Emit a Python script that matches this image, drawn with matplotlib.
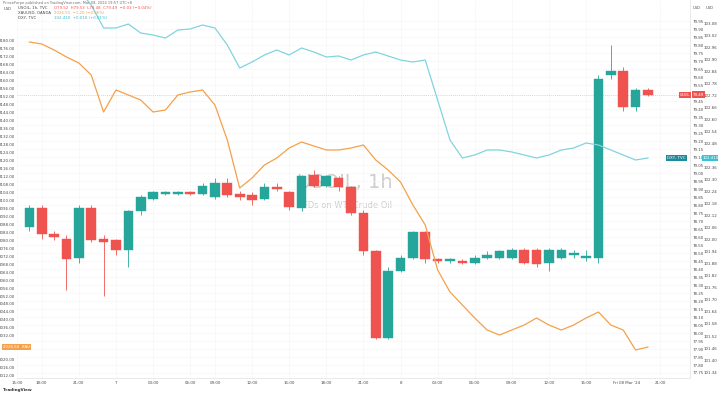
import matplotlib
matplotlib.use("Agg")
import matplotlib.pyplot as plt
import matplotlib.transforms as mtransforms
from matplotlib.ticker import FixedLocator, FormatStrFormatter
import numpy as np

# ---------------- data ----------------
candle_index = list(range(51))
opens = [78.66, 78.78, 78.62, 78.59, 78.47, 78.78, 78.59, 78.58, 78.52, 78.76,
         78.84, 78.87, 78.87, 78.88, 78.87, 78.85, 78.94, 78.87, 78.86, 78.84,
         78.91, 78.88, 78.78, 78.99, 78.92, 78.97, 78.91, 78.75, 78.51, 77.97,
         78.39, 78.47, 78.63, 78.46, 78.45, 78.45, 78.44, 78.47, 78.47, 78.47,
         78.52, 78.52, 78.44, 78.47, 78.49, 78.47, 78.47, 79.61, 79.64, 79.41,
         79.52]
highs = [78.80, 78.80, 78.64, 78.61, 78.80, 78.80, 78.61, 78.59, 78.77, 78.86,
         78.89, 78.89, 78.89, 78.89, 78.94, 78.97, 78.97, 78.89, 78.88, 78.94,
         78.94, 78.89, 78.99, 79.02, 78.99, 78.98, 78.92, 78.77, 78.52, 78.41,
         78.49, 78.64, 78.64, 78.47, 78.47, 78.46, 78.49, 78.51, 78.52, 78.53,
         78.53, 78.53, 78.53, 78.53, 78.52, 78.52, 79.61, 79.80, 79.66, 79.53,
         79.53]
lows = [78.64, 78.59, 78.58, 78.27, 78.44, 78.57, 78.23, 78.49, 78.41, 78.74,
        78.83, 78.86, 78.86, 78.86, 78.86, 78.84, 78.85, 78.83, 78.80, 78.83,
        78.89, 78.77, 78.76, 78.91, 78.91, 78.89, 78.74, 78.49, 77.96, 77.96,
        78.38, 78.46, 78.44, 78.44, 78.44, 78.43, 78.43, 78.46, 78.46, 78.46,
        78.43, 78.41, 78.39, 78.46, 78.47, 78.45, 78.44, 79.59, 79.39, 79.39,
        79.48]
closes = [78.78, 78.62, 78.60, 78.46, 78.78, 78.58, 78.57, 78.52, 78.76, 78.85,
          78.88, 78.88, 78.88, 78.87, 78.92, 78.94, 78.86, 78.85, 78.83, 78.91,
          78.90, 78.79, 78.98, 78.92, 78.98, 78.91, 78.75, 78.51, 77.97, 78.39,
          78.47, 78.63, 78.46, 78.45, 78.46, 78.44, 78.47, 78.49, 78.51, 78.52,
          78.44, 78.43, 78.52, 78.52, 78.50, 78.48, 79.59, 79.64, 79.41, 79.52,
          79.49]
orange_vals = [2179.0, 2178.0, 2175.0, 2171.5, 2168.5, 2162.5, 2144.0, 2155.0, 2152.5, 2150.0,
               2144.0, 2145.0, 2152.5, 2154.0, 2155.0, 2147.5, 2130.0, 2106.0, 2111.0, 2117.5,
               2121.0, 2126.0, 2129.0, 2127.0, 2125.0, 2125.0, 2126.0, 2127.5, 2120.0, 2115.0,
               2109.0, 2097.5, 2087.5, 2065.0, 2054.0, 2047.5, 2041.0, 2035.0, 2032.5, 2035.0,
               2037.5, 2041.0, 2037.5, 2035.0, 2037.5, 2041.0, 2044.0, 2037.5, 2035.0, 2025.0,
               2026.5]
cyan_vals = [103.35, 103.34, 103.325, 103.30, 103.25, 103.175, 103.06, 103.06, 103.08, 103.035,
             103.025, 103.01, 103.05, 103.055, 103.075, 103.06, 102.975, 102.86, 102.89, 102.925,
             102.95, 102.925, 102.96, 102.94, 102.915, 102.92, 102.90, 102.925, 102.94, 102.92,
             102.90, 102.89, 102.90, 102.70, 102.50, 102.41, 102.425, 102.45, 102.45, 102.44,
             102.425, 102.41, 102.425, 102.45, 102.46, 102.485, 102.475, 102.45, 102.425, 102.40,
             102.41]
time_tick_pos = [-1, 1, 4, 7, 10, 13, 15, 18, 21, 24, 27, 30, 33, 36, 39, 42, 45, 51]
time_tick_labels = ["15:00", "18:00", "21:00", "7", "03:00", "06:00", "09:00", "12:00",
                    "15:00", "18:00", "21:00", "8", "03:00", "06:00", "09:00", "12:00",
                    "15:00", "21:00"]

# ---------------- style ----------------
UP = "#26a69a"
DOWN = "#ef5350"
ORANGE = "#f5a04a"
CYAN = "#80d4e0"
TXT = "#4a4a4a"
W, H = 718, 394
FS = 2.9

fig = plt.figure(figsize=(W / 100, H / 100), dpi=100)
fig.patch.set_facecolor("white")


def px_rect(x0, y0, x1, y1):
    return [x0 / W, 1 - y1 / H, (x1 - x0) / W, (y1 - y0) / H]


ax = fig.add_axes(px_rect(17, 0, 690, 378))
ax.set_xlim(-0.44, 53.4)
ax.set_ylim(77.71875, 80.08125)

# watermark
ax.text(0.487, 0.516, "USOIL, 1h", transform=ax.transAxes, ha="center", va="center",
        fontsize=14, color="#cdcdcd", zorder=0)
ax.text(0.487, 0.457, "CFDs on WTI Crude Oil", transform=ax.transAxes, ha="center",
        va="center", fontsize=6.0, color="#cdcdcd", zorder=0)

# candles
for i, o, h, l, c in zip(candle_index, opens, highs, lows, closes):
    col = UP if c >= o else DOWN
    ax.vlines(i, l, h, color=col, lw=0.6, zorder=2)
    ax.bar(i, max(abs(c - o), 0.004), bottom=min(o, c), width=0.78, color=col,
           edgecolor=col, lw=0.3, zorder=3)

# price line
ax.axhline(closes[-1], color="#c8c8c8", lw=0.5, ls=(0, (1.5, 1.5)), zorder=1)

ax.set_xticks(time_tick_pos)
ax.set_xticklabels(time_tick_labels)
ax.tick_params(axis="x", length=0, pad=2.5, labelsize=FS, labelcolor=TXT)
ax.grid(True, color="#f5f5f5", lw=0.4, zorder=0)
ax.set_axisbelow(True)
for s in ["top", "left"]:
    ax.spines[s].set_visible(False)
for s in ["right", "bottom"]:
    ax.spines[s].set_color("#e6e6e6")
    ax.spines[s].set_linewidth(0.6)
ax.patch.set_alpha(0)

# orange series (left scale)
ax_or = ax.twinx()
ax_or.set_ylim(2011.0, 2200.0)
ax_or.plot(candle_index, orange_vals, color=ORANGE, lw=0.9, zorder=4)

# cyan series (second right scale)
ax_cy = ax.twinx()
ax_cy.set_ylim(101.31, 103.2)
ax_cy.plot(candle_index, cyan_vals, color=CYAN, lw=0.9, zorder=4)


def ticks_clear_of(values, taken, gap):
    return [v for v in values if abs(v - taken) > gap]


# scales (set after twinx, which moves the base ticks)
ax.yaxis.tick_right()
ax.yaxis.set_major_locator(FixedLocator(
    ticks_clear_of(np.arange(77.75, 79.99, 0.05), closes[-1], 0.035)))
ax.yaxis.set_major_formatter(FormatStrFormatter("%.2f"))
ax.tick_params(axis="y", which="both", left=False, labelleft=False, right=True,
               labelright=True, length=0, pad=2.2, labelsize=FS, labelcolor=TXT)

ax_or.yaxis.tick_left()
ax_or.yaxis.set_major_locator(FixedLocator(
    ticks_clear_of(np.arange(2012, 2181, 4), orange_vals[-1], 3.0)))
ax_or.yaxis.set_major_formatter(FormatStrFormatter("%.2f"))
ax_or.tick_params(axis="y", right=False, labelright=False, left=True, labelleft=True,
                  length=0, pad=1.5, labelsize=FS, labelcolor=TXT)

ax_cy.yaxis.tick_right()
ax_cy.yaxis.set_major_locator(FixedLocator(
    ticks_clear_of(np.arange(101.34, 103.11, 0.06), cyan_vals[-1], 0.035)))
ax_cy.yaxis.set_major_formatter(FormatStrFormatter("%.2f"))
ax_cy.tick_params(axis="y", length=0, pad=9.8, labelsize=FS, labelcolor=TXT)
for a in (ax_or, ax_cy):
    for s in a.spines.values():
        s.set_visible(False)
    a.patch.set_alpha(0)

# value labels on the scales
tr_c = mtransforms.blended_transform_factory(fig.transFigure, ax.transData)
tr_o = mtransforms.blended_transform_factory(fig.transFigure, ax_or.transData)
tr_y = mtransforms.blended_transform_factory(fig.transFigure, ax_cy.transData)
box = dict(boxstyle="square,pad=0.3", lw=0)
fig.text(680 / W, closes[-1], "USOIL", transform=tr_c, fontsize=2.4, color="white",
         va="center", ha="left", bbox=dict(box, fc=DOWN))
fig.text(693 / W, closes[-1], "%.2f" % closes[-1], transform=tr_c, fontsize=FS,
         color="white", va="center", ha="left", bbox=dict(box, fc=DOWN))
fig.text(3 / W, orange_vals[-1], "%.2f  XAU" % orange_vals[-1], transform=tr_o,
         fontsize=FS, color="white", va="center", ha="left", bbox=dict(box, fc=ORANGE))
fig.text(667 / W, cyan_vals[-1], "DXY, TVC", transform=tr_y, fontsize=FS, color="white",
         va="center", ha="left", bbox=dict(box, fc="#1f8a9a"))
fig.text(703 / W, cyan_vals[-1], "%.3f" % cyan_vals[-1], transform=tr_y, fontsize=FS,
         color="white", va="center", ha="left", bbox=dict(box, fc="#3cc0d4"))

# header and legend
LX = 54
fig.text(3 / W, 1 - 3 / H, "PrinceFurpe published on TradingView.com, Mar 08, 2024 19:57 UTC+8",
         fontsize=2.6, color="#707070", va="center", ha="left")
fig.text(4 / W, 1 - 9 / H, "USD", fontsize=2.7, color=TXT, va="center", ha="left")
fig.text(18 / W, 1 - 8 / H, "USOIL, 1h, TVC", fontsize=2.8, color=TXT, va="center")
fig.text(LX / W, 1 - 8 / H, "O79.52  H79.53  L79.48  C79.49  \u22120.03 (\u22120.04%)",
         fontsize=2.8, color=DOWN, va="center")
fig.text(18 / W, 1 - 13 / H, "XAUUSD, OANDA", fontsize=2.8, color=TXT, va="center")
fig.text(LX / W, 1 - 13 / H, "2026.50  \u22121.20 (\u22120.06%)", fontsize=2.8,
         color=ORANGE, va="center")
fig.text(18 / W, 1 - 18 / H, "DXY, TVC", fontsize=2.8, color=TXT, va="center")
fig.text(LX / W, 1 - 18 / H, "102.410  +0.010 (+0.01%)", fontsize=2.8, color="#3cb8cc",
         va="center")
fig.text(693 / W, 1 - 8 / H, "USD", fontsize=2.7, color=TXT, va="center")
fig.text(706 / W, 1 - 8 / H, "USD", fontsize=2.7, color=TXT, va="center")
fig.text(627 / W, 1 - 383 / H, "Fri 08 Mar '24", fontsize=FS, color=TXT, va="center",
         ha="center")
fig.text(3 / W, 1 - 390 / H, "TradingView", fontsize=3.0, color="#333333",
         va="center", ha="left", fontweight="bold")

fig.savefig("out.png", dpi=100, facecolor="white")
